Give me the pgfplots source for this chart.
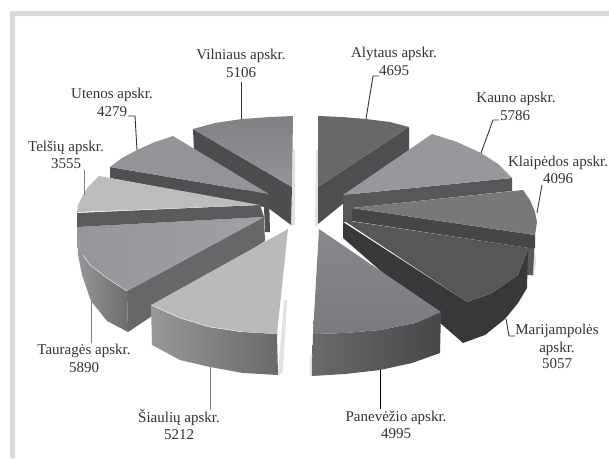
\documentclass[border=0pt]{standalone}
\usepackage{pgfplots}
\pgfplotsset{compat=1.18}
\usepackage{fontspec}
\setmainfont{Liberation Serif}
\definecolor{txt}{HTML}{333333}
\definecolor{frame}{HTML}{D9DADB}
\definecolor{shad}{HTML}{E2E2E3}
\newcommand{\poly}[2]{\addplot[draw=none,#1] coordinates {#2} -- cycle;}
\newcommand{\lead}[2]{\addplot[line width=0.9pt,color=#1] coordinates {#2};}
\newcommand{\lab}[3]{\node[anchor=center,inner sep=0pt,text=txt,font=\fontsize{15}{17}\selectfont] at (axis cs:#1,#2) {#3};}
\begin{document}
\begin{tikzpicture}
\begin{axis}[
  scale only axis, width=609pt, height=458pt,
  xmin=0, xmax=609, ymin=0, ymax=458, y dir=reverse,
  hide axis, clip=true,
]
% page and frame
\poly{fill=white}{(0,0)(609,0)(609,458)(0,458)}
\poly{fill=frame}{(10,11)(609,11)(609,16)(15,16)(15,458)(10,458)}
% soft shadows
\poly{fill=shad}{(293,150)(295,150)(295,225)(291,226)}
\poly{fill=shad}{(316,150)(318,150)(318,225)(315,226)}
% Vilnius
\poly{fill={rgb,255:red,76;green,77;blue,79}}{(193,129)(292,187)(291,225)(194,152)}
\poly{top color={rgb,255:red,128;green,129;blue,132},bottom color={rgb,255:red,148;green,149;blue,152}}{(193,129)(215,123)(242,119)(270,117)(293,116)(292,187)}
% Alytus
\poly{fill={rgb,255:red,77;green,78;blue,80}}{(409,127)(318,187)(318,224)(409,150)}
\poly{fill={rgb,255:red,103;green,104;blue,106}}{(318,116)(342,117)(366,119)(390,122)(409,127)(318,187)}
% Utenos
\poly{fill={rgb,255:red,79;green,80;blue,82}}{(110,167)(269,194)(270,232)(265,232)(264,207)(110,178)}
\poly{fill={rgb,255:red,147;green,148;blue,151}}{(110,167)(122,158)(137,150)(155,142)(173,136)(269,194)}
% Kauno
\poly{fill={rgb,255:red,86;green,87;blue,89}}{(343,195)(512,178)(512,191)(352,208)(352,222)(343,222)}
\poly{fill={rgb,255:red,151;green,152;blue,155}}{(343,195)(432,134)(457,142)(481,153)(498,164)(512,178)}
% Klaipeda outer wall
\poly{fill=shad}{(535,250)(536,262)(534,276)(531,276)}
\poly{fill={rgb,255:red,88;green,89;blue,91}}{(535,235)(533,275)(526,275)(528,249)}
% Taurage
\poly{left color={rgb,255:red,150;green,151;blue,153},right color={rgb,255:red,108;green,109;blue,111}}{(77,227)(77,241)(83,255)(90,265)(107,278)(127,291)(128,332)(107,321)(91,301)(82,275)(78,255)}
\poly{fill={rgb,255:red,102;green,103;blue,105}}{(127,291)(264,217)(265,241)(128,332)}
\poly{left color={rgb,255:red,150;green,151;blue,154},right color={rgb,255:red,160;green,161;blue,164}}{(77,227)(264,217)(127,291)(107,278)(90,265)(83,255)(77,241)}
\addplot[line width=0.5pt,color=white!80!gray] coordinates {(83,255)(90,265)(107,278)(127,291)};
% Telsiai
\poly{fill={rgb,255:red,90;green,91;blue,93}}{(77,213)(260,205)(264,217)(77,227)}
\poly{fill={rgb,255:red,187;green,188;blue,190}}{(77,212)(78,205)(83,195)(88,187)(99,176)(260,205)}
% Marijampole
\poly{fill={rgb,255:red,56;green,56;blue,58}}{(343,222)(467,302)(492,293)(518,275)(528,249)(527,288)(518,303)(505,319)(485,335)(463,343)(343,238)}
\poly{fill={rgb,255:red,86;green,87;blue,89}}{(343,220)(529,248)(528,249)(518,275)(492,293)(467,302)}
% Klaipeda
\poly{fill={rgb,255:red,69;green,70;blue,72}}{(352,208)(535,235)(535,248)(529,248)(352,221)}
\poly{fill={rgb,255:red,119;green,120;blue,122}}{(352,208)(523,190)(530,200)(535,212)(537,222)(535,235)}
% Siauliai
\poly{fill=shad}{(284,300)(287,300)(283,372)(278,375)}
\poly{left color={rgb,255:red,150;green,151;blue,153},right color={rgb,255:red,105;green,106;blue,108}}{(151,305)(180,318)(210,327)(243,332)(277,334)(278,375)(243,373)(210,367)(180,360)(152,345)}
\poly{fill={rgb,255:red,185;green,186;blue,188}}{(288,229)(277,334)(243,332)(210,327)(180,318)(151,305)}
\addplot[line width=0.5pt,color=white!85!gray] coordinates {(151,305)(180,318)(210,327)(243,332)};
% Panevezys
\poly{fill=shad}{(313,354)(310,356)(310,376)(313,376)}
\poly{left color={rgb,255:red,105;green,106;blue,108},right color={rgb,255:red,70;green,71;blue,73}}{(313,334)(345,333)(380,330)(415,323)(441,312)(440,353)(412,363)(380,370)(345,374)(312,376)}
\poly{top color={rgb,255:red,135;green,136;blue,139},bottom color={rgb,255:red,122;green,123;blue,126}}{(319,229)(441,312)(415,323)(380,330)(345,333)(313,334)}
% leader lines
\lead{txt}{(241,82)(241,119)}
\lead{txt}{(128,116)(135,116)(137,150)}
\lead{gray}{(84,170)(84,195)}
\lead{txt}{(379,76)(373,76)(366,119)}
\lead{txt}{(499,120)(493,120)(481,153)}
\lead{txt!80!gray}{(542,185)(537,213)}
\lead{txt}{(515,336)(509,336)(506,319)}
\lead{black}{(380,370)(380,409)}
\lead{gray}{(210,367)(210,410)}
\lead{gray}{(91,301)(91,343)}
% labels
\lab{241}{56}{Vilniaus apskr.}
\lab{241}{73}{5106}
\lab{112}{95}{Utenos apskr.}
\lab{112}{112}{4279}
\lab{66}{148}{Telšių apskr.}
\lab{66}{164}{3555}
\lab{394}{54}{Alytaus apskr.}
\lab{394}{71}{4695}
\lab{516}{99}{Kauno apskr.}
\lab{515}{116}{5786}
\lab{558}{163}{Klaipėdos apskr.}
\lab{558}{179}{4096}
\lab{557}{331}{Marijampolės}
\lab{557}{349}{apskr.}
\lab{557}{364}{5057}
\lab{396}{418}{Panevėžio apskr.}
\lab{396}{434}{4995}
\lab{179}{418}{Šiaulių apskr.}
\lab{179}{435}{5212}
\lab{84}{351}{Tauragės apskr.}
\lab{84}{368}{5890}
\end{axis}
\end{tikzpicture}
\end{document}
